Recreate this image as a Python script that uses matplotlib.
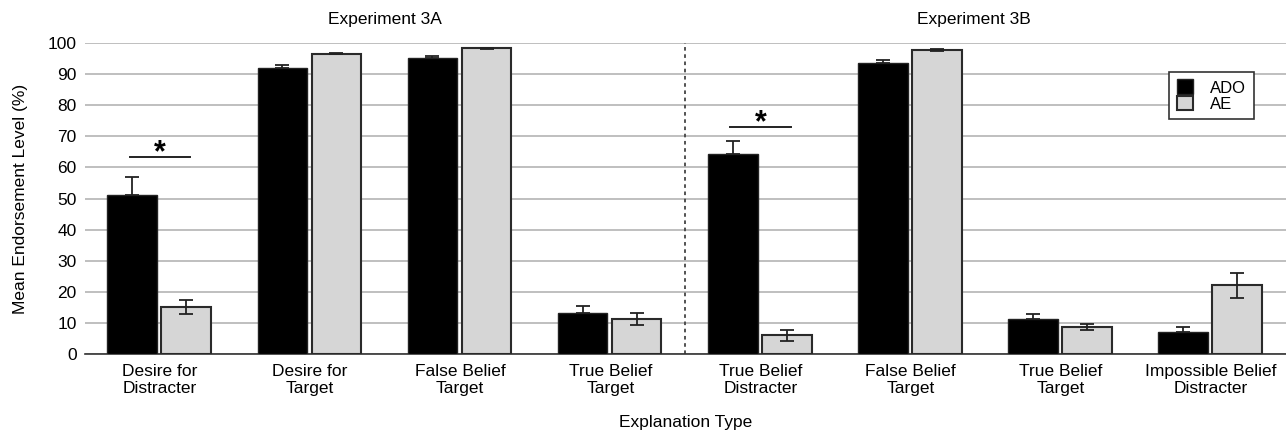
import numpy as np
import matplotlib.pyplot as plt

plt.rcParams['font.family'] = ['Liberation Sans', 'DejaVu Sans']

categories = ['Desire for\nDistracter', 'Desire for\nTarget', 'False Belief\nTarget', 'True Belief\nTarget',
              'True Belief\nDistracter', 'False Belief\nTarget', 'True Belief\nTarget', 'Impossible Belief\nDistracter']
ado = [51.3, 91.8, 95.2, 13.3, 64.2, 93.5, 11.3, 7.2]
ado_err = [5.5, 1.2, 0.7, 2.2, 4.4, 1.0, 1.6, 1.4]
ae = [15.2, 96.6, 98.3, 11.3, 6.1, 97.7, 8.7, 22.2]
ae_err = [2.2, 0.3, 0.2, 2.0, 1.8, 0.4, 1.0, 4.0]
sig_groups = [0, 4]
sig_heights = [63.3, 73.0]

fig = plt.figure(figsize=(12.86, 4.34), dpi=100)
ax = fig.add_axes([0.066, 0.184, 0.934, 0.717])

x = np.arange(len(categories))
w = 0.33
ax.bar(x - 0.185, ado, w, color='black', edgecolor='#222222', linewidth=1, label='ADO', zorder=3)
ax.bar(x + 0.175, ae, w, color='#d6d6d6', edgecolor='#2a2a2a', linewidth=1.5, label='AE', zorder=3)
# only the upper half shows above the black bars
ax.errorbar(x - 0.185, ado, yerr=[np.zeros(len(ado)), ado_err], fmt='none', ecolor='#222222',
            elinewidth=1.3, capsize=5, capthick=1.3, zorder=4)
ax.errorbar(x + 0.175, ae, yerr=ae_err, fmt='none', ecolor='#222222', elinewidth=1.3, capsize=5,
            capthick=1.3, zorder=4)

for g, h in zip(sig_groups, sig_heights):
    ax.plot([g - 0.2, g + 0.2], [h, h], color='#222222', linewidth=1.4, zorder=4)
    ax.text(g, h - 3.5, '*', ha='center', va='bottom', fontsize=22, fontweight='bold')

ax.axvline(3.5, color='#444444', linestyle=(0, (2, 2)), linewidth=1.3, zorder=2)

ax.set_xlim(-0.5, 7.5)
ax.set_ylim(0, 100)
ax.set_yticks(np.arange(0, 101, 10))
ax.set_xticks(x)
ax.set_xticklabels(categories, fontsize=12.5, linespacing=1.15)
ax.tick_params(axis='both', length=0, labelsize=12.5)
ax.tick_params(axis='x', pad=7)
ax.tick_params(axis='y', pad=6)
ax.grid(axis='y', color='#b4b4b4', linewidth=1.2, zorder=0)
ax.set_axisbelow(True)
for s in ['top', 'right', 'left']:
    ax.spines[s].set_visible(False)
ax.spines['bottom'].set_color('#333333')
ax.spines['bottom'].set_linewidth(1.2)

ax.set_ylabel('Mean Endorsement Level (%)', fontsize=12.5, labelpad=14)
ax.set_xlabel('Explanation Type', fontsize=12.5, labelpad=14)

ax.text(0.25, 1.075, 'Experiment 3A', transform=ax.transAxes, ha='center', va='center', fontsize=12.5)
ax.text(0.74, 1.075, 'Experiment 3B', transform=ax.transAxes, ha='center', va='center', fontsize=12.5)

leg = ax.legend(loc='upper right', bbox_to_anchor=(0.973, 0.907), fontsize=12, frameon=True, fancybox=False,
                edgecolor='#333333', handlelength=1.0, handleheight=1.0, borderpad=0.45, labelspacing=0.0,
                handletextpad=1.0, borderaxespad=0)
leg.get_frame().set_linewidth(1.2)
leg.get_frame().set_alpha(1)

fig.savefig('out.png')
